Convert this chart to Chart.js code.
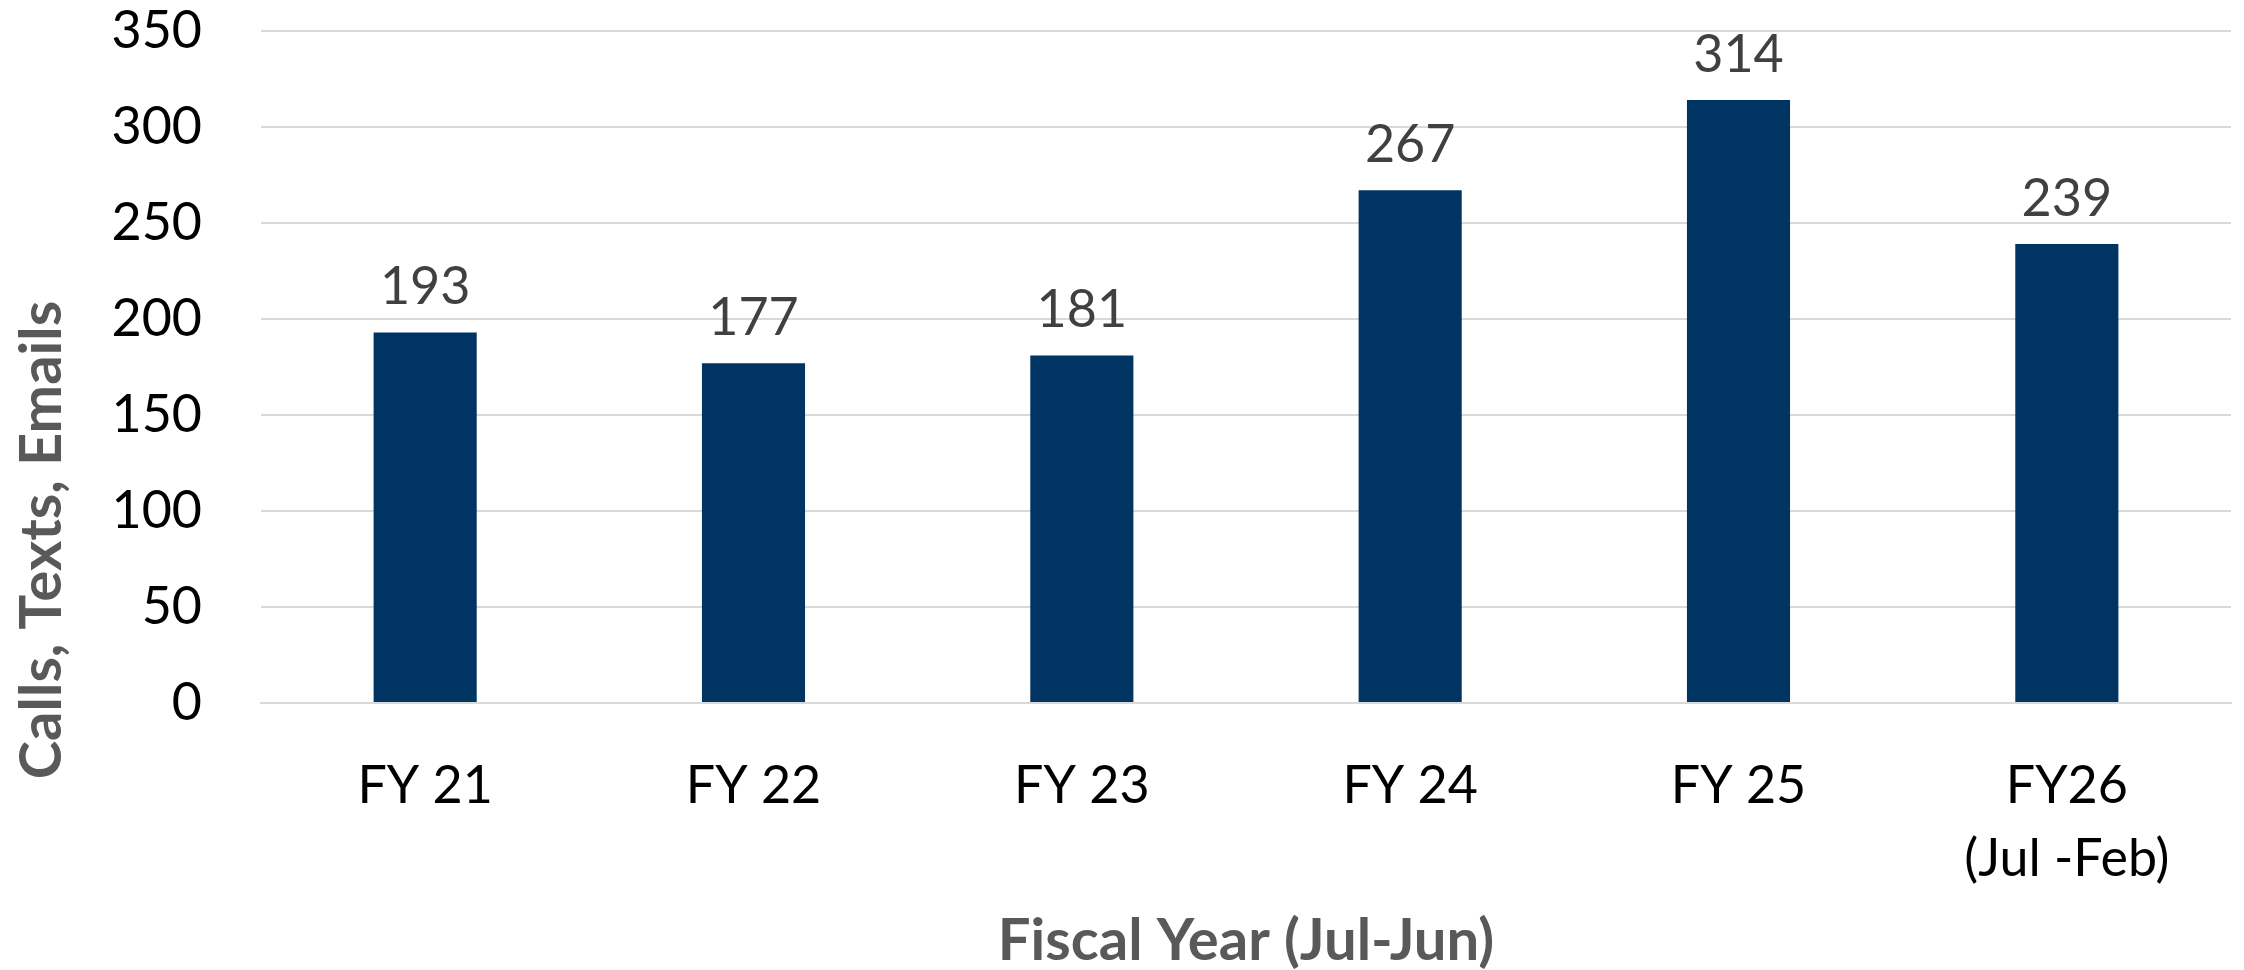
<!DOCTYPE html>
<html>
<head>
<meta charset="utf-8">
<script src="https://cdn.jsdelivr.net/npm/chart.js@4.4.1/dist/chart.umd.min.js"></script>
<style>
  html, body { margin: 0; padding: 0; background: #fff; }
  #wrap { width: 2244px; height: 970px; position: relative; }
</style>
</head>
<body>
<div id="wrap"><canvas id="chart"></canvas></div>
<script>
// chart data
const categories = ['FY 21', 'FY 22', 'FY 23', 'FY 24', 'FY 25', ['FY26', '(Jul -Feb)']];
const contacts = [193, 177, 181, 267, 314, 239];
const yTicks = { min: 0, max: 350, step: 50 };
const xTitle = 'Fiscal Year (Jul-Jun)';
const yTitle = 'Calls, Texts, Emails';

const FONT = 'Lato';

// value labels above each bar
const barLabels = {
    id: 'barLabels',
    afterDatasetsDraw(chart) {
        const ctx = chart.ctx;
        const meta = chart.getDatasetMeta(0);
        ctx.save();
        ctx.font = `52px ${FONT}`;
        ctx.fillStyle = '#404040';
        ctx.textAlign = 'center';
        ctx.textBaseline = 'alphabetic';
        meta.data.forEach((bar, i) => {
            ctx.fillText(String(contacts[i]), bar.x, bar.y - 28);
        });
        ctx.restore();
    }
};

// rotated y-axis title (sits lower than the plot centre in the original)
const sideTitle = {
    id: 'sideTitle',
    afterDraw(chart) {
        const ctx = chart.ctx;
        ctx.save();
        ctx.translate(42, 540);
        ctx.rotate(-Math.PI / 2);
        ctx.font = `bold 58px ${FONT}`;
        ctx.fillStyle = '#595959';
        ctx.textAlign = 'center';
        ctx.textBaseline = 'middle';
        ctx.fillText(yTitle, 0, 0);
        ctx.restore();
    }
};

const ctx = document.getElementById('chart').getContext('2d');
new Chart(ctx, {
    type: 'bar',
    data: {
        labels: categories,
        datasets: [{
            label: yTitle,
            data: contacts,
            backgroundColor: '#003463',
            borderWidth: 0,
            barPercentage: 0.314,
            categoryPercentage: 1.0
        }]
    },
    options: {
        responsive: true,
        maintainAspectRatio: false,
        animation: false,
        layout: {
            padding: { top: 31, right: 13, bottom: 0, left: 0 }
        },
        scales: {
            x: {
                grid: { display: false },
                border: { display: true, color: '#d9d9d9', width: 2 },
                ticks: {
                    color: '#000',
                    font: { family: FONT, size: 52, lineHeight: 1.4 },
                    padding: 39,
                    maxRotation: 0,
                    autoSkip: false
                },
                title: {
                    display: true,
                    text: xTitle,
                    color: '#595959',
                    font: { family: FONT, size: 58, weight: 'bold', lineHeight: 1 },
                    padding: { top: 0, bottom: 0 }
                },
                afterFit(scale) { scale.height = 267; }
            },
            y: {
                min: yTicks.min,
                max: yTicks.max,
                grid: { color: '#d9d9d9', lineWidth: 2, drawTicks: false },
                border: { display: false },
                ticks: {
                    stepSize: yTicks.step,
                    color: '#000',
                    font: { family: FONT, size: 52, lineHeight: 1 },
                    padding: 59
                },
                afterFit(scale) {
                    scale.width = 261;
                    // keep the tick padding from pushing the plot top down
                    scale.paddingTop = 0;
                    scale.paddingBottom = 0;
                }
            }
        },
        plugins: {
            legend: { display: false },
            tooltip: { enabled: false }
        }
    },
    plugins: [barLabels, sideTitle]
});
</script>
</body>
</html>
